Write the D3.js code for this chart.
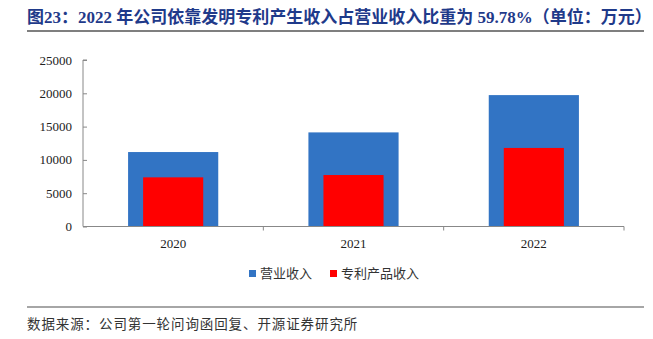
<!DOCTYPE html>
<html>
<head>
<meta charset="utf-8">
<script src="https://cdn.jsdelivr.net/npm/d3@7"></script>
<style>
  html, body { margin: 0; padding: 0; background: #fff; }
  svg { display: block; }
</style>
</head>
<body>
<svg id="chart" width="653" height="339"></svg>
<script>
// Data (万元)
const years = ["2020", "2021", "2022"];
const revenue = [11180, 14130, 19730];      // 营业收入
const patentIncome = [7380, 7730, 11795];   // 专利产品收入
const yTicks = [0, 5000, 10000, 15000, 20000, 25000];
const seriesNames = ["营业收入", "专利产品收入"];
const seriesColors = ["#3274C4", "#FF0000"];

const title = "图23：2022 年公司依靠发明专利产生收入占营业收入比重为 59.78%（单位：万元）";
const source = "数据来源：公司第一轮问询函回复、开源证券研究所";

const svg = d3.select("#chart");
const serif = "'Liberation Serif', 'Times New Roman', 'Noto Sans CJK SC', serif";
const cjk = "'Noto Sans CJK SC', sans-serif";

// Header
svg.append("text")
  .attr("x", 27).attr("y", 23)
  .attr("font-family", serif)
  .attr("font-size", 17).attr("font-weight", "bold")
  .attr("fill", "#1F3A8A")
  .text(title);
svg.append("line")
  .attr("x1", 27).attr("x2", 644).attr("y1", 31).attr("y2", 31)
  .attr("stroke", "#555").attr("stroke-width", 1.3);

// Plot geometry
const plotLeft = 83, plotRight = 624, plotTop = 60, plotBottom = 226.5;
const x = d3.scaleBand().domain(years).range([plotLeft, plotRight]).padding(0);
const y = d3.scaleLinear().domain([0, 25000]).range([plotBottom, plotTop]);

// Bars: revenue (wide) behind patent income (narrow)
const g = svg.append("g");
g.selectAll("rect.rev").data(years).join("rect")
  .attr("class", "rev")
  .attr("x", d => x(d) + x.bandwidth() / 4)
  .attr("width", x.bandwidth() / 2)
  .attr("y", (d, i) => y(revenue[i]))
  .attr("height", (d, i) => y(0) - y(revenue[i]))
  .attr("fill", seriesColors[0]);
g.selectAll("rect.pat").data(years).join("rect")
  .attr("class", "pat")
  .attr("x", d => x(d) + x.bandwidth() / 3)
  .attr("width", x.bandwidth() / 3)
  .attr("y", (d, i) => y(patentIncome[i]))
  .attr("height", (d, i) => y(0) - y(patentIncome[i]))
  .attr("fill", seriesColors[1]);

// Y axis (ticks pointing inward)
const yAxis = svg.append("g")
  .attr("transform", `translate(${plotLeft},0)`)
  .call(d3.axisRight(y).tickValues(yTicks).tickSize(4).tickFormat(""));
yAxis.select(".domain").attr("stroke", "#888").attr("d", `M4,${plotTop}H0V${plotBottom}`);
yAxis.selectAll(".tick line").attr("stroke", "#888");
svg.append("g").selectAll("text").data(yTicks).join("text")
  .attr("x", 72).attr("y", d => y(d))
  .attr("dy", "0.35em")
  .attr("text-anchor", "end")
  .attr("font-family", serif).attr("font-size", 13).attr("fill", "#222")
  .text(d => d);

// X axis with boundary ticks between categories
const xAxis = svg.append("g").attr("transform", `translate(0,${plotBottom})`);
xAxis.append("line")
  .attr("x1", plotLeft).attr("x2", plotRight).attr("y1", 0).attr("y2", 0)
  .attr("stroke", "#888");
xAxis.selectAll("line.tk").data(years.slice(1).map(d => x(d)).concat([plotRight])).join("line")
  .attr("class", "tk")
  .attr("x1", d => d).attr("x2", d => d).attr("y1", 0).attr("y2", 4)
  .attr("stroke", "#888");
xAxis.selectAll("text").data(years).join("text")
  .attr("x", d => x(d) + x.bandwidth() / 2)
  .attr("y", 21)
  .attr("text-anchor", "middle")
  .attr("font-family", serif).attr("font-size", 13).attr("fill", "#222")
  .text(d => d);

// Legend
const legendItems = [
  { name: seriesNames[0], color: seriesColors[0], x: 249 },
  { name: seriesNames[1], color: seriesColors[1], x: 330 }
];
const lg = svg.append("g").selectAll("g").data(legendItems).join("g")
  .attr("transform", d => `translate(${d.x},270)`);
lg.append("rect").attr("width", 7).attr("height", 7).attr("fill", d => d.color);
lg.append("text")
  .attr("x", 11).attr("y", 3.5).attr("dy", "0.36em")
  .attr("font-family", cjk).attr("font-size", 13).attr("fill", "#333")
  .text(d => d.name);

// Footer
svg.append("line")
  .attr("x1", 27).attr("x2", 644).attr("y1", 307).attr("y2", 307)
  .attr("stroke", "#888").attr("stroke-width", 1.3);
svg.append("text")
  .attr("x", 27).attr("y", 329)
  .attr("font-family", cjk).attr("font-size", 13.5).attr("letter-spacing", 0.9)
  .attr("fill", "#333")
  .text(source);
</script>
</body>
</html>
